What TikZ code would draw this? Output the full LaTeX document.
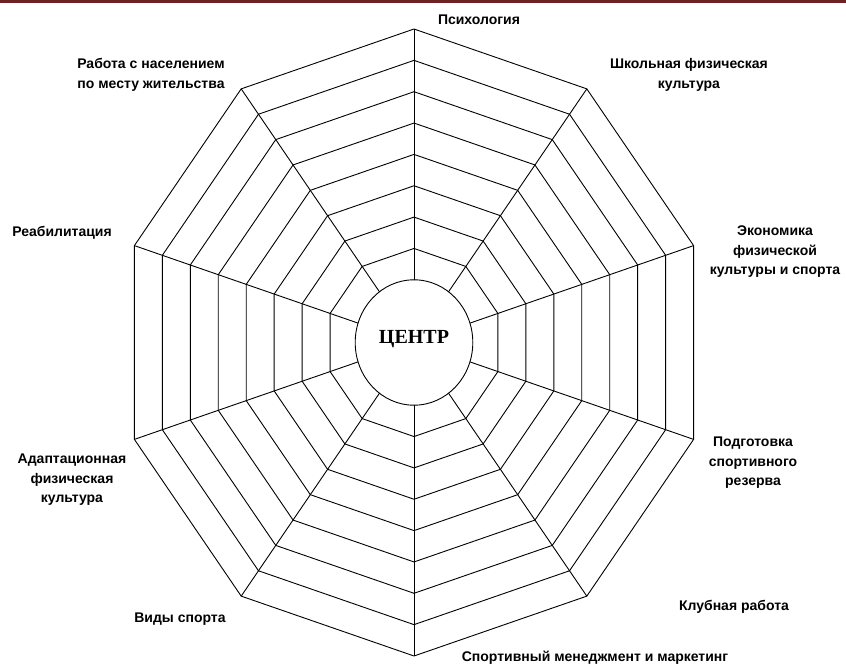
\documentclass[tikz,border=0pt]{standalone}
\usepackage{fontspec}
\setmainfont{Liberation Sans}
\newfontfamily\ctrfont{Liberation Serif}
\definecolor{topbar}{RGB}{110,34,38}
\begin{document}
\begin{tikzpicture}[x=1pt,y=-1pt,
  lbl/.style={font=\bfseries\fontsize{14}{19.5}\selectfont, align=center, inner sep=0pt},
  web/.style={line width=0.9pt, draw=black},
  ctr/.style={font=\ctrfont\bfseries\fontsize{20}{22}\selectfont, inner sep=0pt}]
\useasboundingbox (0,0) rectangle (846,666);
\fill[topbar] (0,0) rectangle (846,3);
\begin{scope}[shift={(414,342.5)}, x=29.4pt, y=31.35pt]
  \foreach \f in {3,...,10} {
    \draw[web] (90:\f) \foreach \a in {126,162,...,414} { -- (\a:\f) } -- cycle;
  }
  \foreach \a in {90,126,...,414} {
    \draw[web] (\a:2) -- (\a:10);
  }
  \draw[web] (0,0) ellipse [x radius=2, y radius=2];
  \node[ctr] (center) at (0,0.1) {ЦЕНТР};
\end{scope}
\node[lbl] (psych) at (479,20) {Психология};
\node[lbl] (rabota) at (151,75) {Работа с населением\\по месту жительства};
\node[lbl] (shkol) at (689,75) {Школьная физическая\\культура};
\node[lbl] (ekon) at (775,252) {Экономика\\физической\\культуры и спорта};
\node[lbl] (reab) at (62,233) {Реабилитация};
\node[lbl] (podg) at (753,463) {Подготовка\\спортивного\\резерва};
\node[lbl] (adapt) at (72,480) {Адаптационная\\физическая\\культура};
\node[lbl] (vidy) at (180,619) {Виды спорта};
\node[lbl] (klub) at (734,607) {Клубная работа};
\node[lbl] (sport) at (595,658) {Спортивный менеджмент и маркетинг};
\end{tikzpicture}
\end{document}
